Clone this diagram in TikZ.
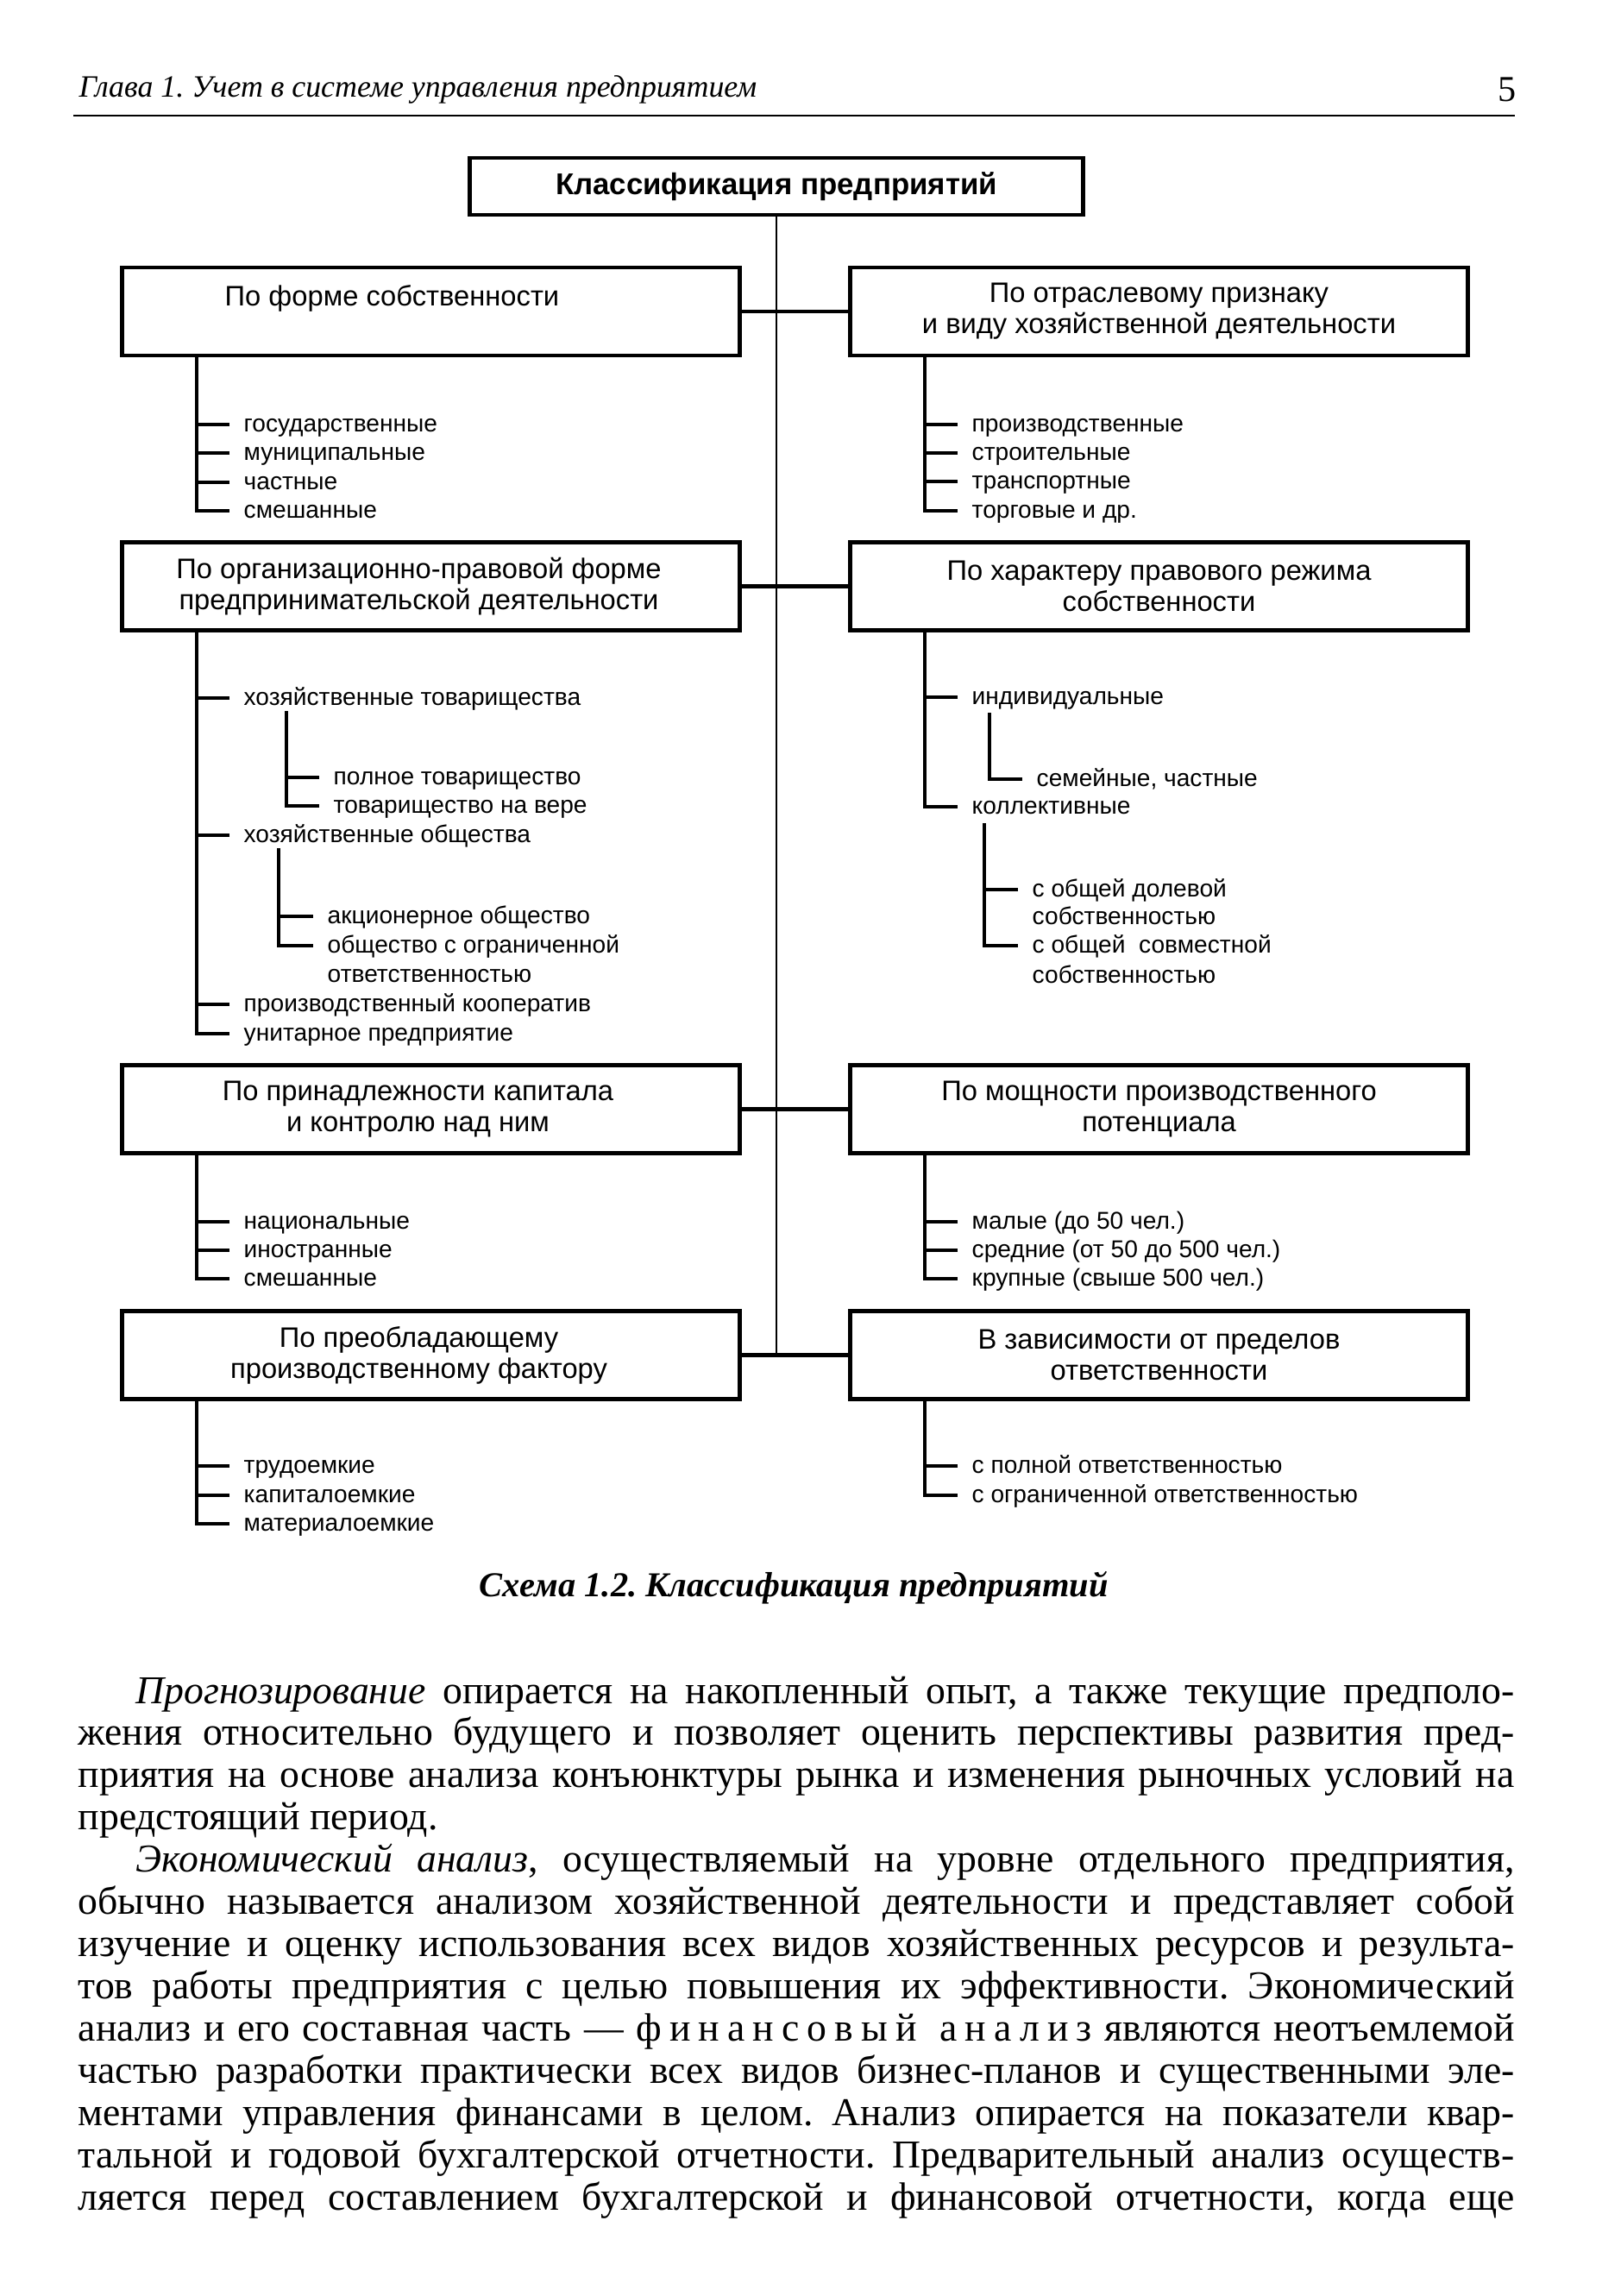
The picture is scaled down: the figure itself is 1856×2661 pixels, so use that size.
\documentclass[tikz,border=0pt]{standalone}
\usepackage{fontspec}
\setmainfont{Liberation Serif}
\setsansfont{Liberation Sans}
\frenchspacing
\newlength\bodyfullw \setlength\bodyfullw{16.64cm}
\newlength\bodyindw \setlength\bodyindw{15.97cm}
\tikzset{
  box/.style={draw, line width=1.3pt, rectangle, inner sep=0pt, align=center,
    minimum width=7.16cm, minimum height=1.02cm,
    font=\sffamily\fontsize{9.3}{10.3}\selectfont},
  item/.style={anchor=west, inner xsep=0.16cm, inner ysep=0pt,
    font=\sffamily\fontsize{8}{9.6}\selectfont, text height=1.5ex, text depth=0.5ex},
  trunk/.style={line width=0.7pt},
  conn/.style={line width=1.4pt},
  branch/.style={line width=1pt},
  bline/.style={anchor=west, inner sep=0pt, font=\frenchspacing\fontsize{13}{14}\selectfont,
    text height=1.5ex, text depth=0.5ex},
}
\begin{document}
\begin{tikzpicture}[x=0.01cm,y=-0.01cm]
\useasboundingbox[fill=white] (0,0) rectangle (1856,2661);

% running head
\node[anchor=west, inner sep=0pt, font=\itshape\fontsize{10.2}{12}\selectfont] (hd) at (91,104) {Глава 1. Учет в системе управления предприятием};
\node[inner sep=0pt, font=\fontsize{12}{13}\selectfont] (pg) at (1747,104) {5};
\draw[line width=0.7pt] (85,134) -- (1756,134);

% boxes
\node[box, minimum width=7.11cm, minimum height=0.66cm, font=\sffamily\bfseries\fontsize{9.9}{11}\selectfont] (top) at (900,216) {Классификация предприятий};
\node[box] (b1L) at (499.5,361) {По форме собственности\hspace*{0.9cm}\\\mbox{}};
\node[box] (b1R) at (1343.5,361) {По отраслевому признаку\\и виду хозяйственной деятельности};
\node[box] (b2L) at (499.5,679.5) {По организационно-правовой форме\hspace*{0.28cm}\\предпринимательской деятельности\hspace*{0.28cm}};
\node[box] (b2R) at (1343.5,679.5) {По характеру правового режима\\собственности};
\node[box] (b3L) at (499.5,1285.5) {По принадлежности капитала\hspace*{0.3cm}\\и контролю над ним\hspace*{0.3cm}};
\node[box] (b3R) at (1343.5,1285.5) {По мощности производственного\\потенциала};
\node[box] (b4L) at (499.5,1570.5) {По преобладающему\hspace*{0.28cm}\\производственному фактору\hspace*{0.28cm}};
\node[box] (b4R) at (1343.5,1570.5) {В зависимости от пределов\\ответственности};

\draw[trunk] (top.south) -- (top.south |- b4L.east);
\draw[conn] (b1L.east) -- (b1R.west);
\draw[conn] (b2L.east) -- (b2R.west);
\draw[conn] (b3L.east) -- (b3R.west);
\draw[conn] (b4L.east) -- (b4R.west);

\coordinate (vL) at (228,0);
\coordinate (vR) at (1072,0);

% row 1 left
\node[item] (a1) at (266,492) {государственные};
\node[item] (a2) at (266,525) {муниципальные};
\node[item] (a3) at (266,559) {частные};
\node[item] (a4) at (266,592) {смешанные};
\draw[branch] (b1L.south -| vL) |- (a4.west);
\foreach \n in {a1,a2,a3} \draw[branch] (\n.west) -- (\n.west -| vL);

% row 1 right
\node[item] (r1) at (1110,492) {производственные};
\node[item] (r2) at (1110,525) {строительные};
\node[item] (r3) at (1110,558) {транспортные};
\node[item] (r4) at (1110,592) {торговые и др.};
\draw[branch] (b1R.south -| vR) |- (r4.west);
\foreach \n in {r1,r2,r3} \draw[branch] (\n.west) -- (\n.west -| vR);

% row 2 left
\node[item] (c1) at (266,809) {хозяйственные товарищества};
\coordinate (s1) at (332,824);
\node[item] (c2) at (370,901) {полное товарищество};
\node[item] (c3) at (370,934) {товарищество на вере};
\node[item] (c4) at (266,968) {хозяйственные общества};
\coordinate (s2) at (323,983);
\node[item] (c5) at (363,1062) {акционерное общество};
\node[item] (c6) at (363,1096) {общество с ограниченной};
\node[item] (c7) at (363,1130) {ответственностью};
\node[item] (c8) at (266,1164) {производственный кооператив};
\node[item] (c9) at (266,1198) {унитарное предприятие};
\draw[branch] (b2L.south -| vL) |- (c9.west);
\foreach \n in {c1,c4,c8} \draw[branch] (\n.west) -- (\n.west -| vL);
\draw[branch] (s1) |- (c3.west);
\draw[branch] (c2.west) -- (c2.west -| s1);
\draw[branch] (s2) |- (c6.west);
\draw[branch] (c5.west) -- (c5.west -| s2);

% row 2 right
\node[item] (d1) at (1110,808) {индивидуальные};
\coordinate (s3) at (1147,826);
\node[item] (d2) at (1185,903) {семейные, частные};
\node[item] (d3) at (1110,935) {коллективные};
\coordinate (s4) at (1141,954);
\node[item] (d4) at (1180,1031) {с общей долевой};
\node[item] (d5) at (1180,1063) {собственностью};
\node[item] (d6) at (1180,1096) {с общей~ совместной};
\node[item] (d7) at (1180,1131) {собственностью};
\draw[branch] (b2R.south -| vR) |- (d3.west);
\draw[branch] (d1.west) -- (d1.west -| vR);
\draw[branch] (s3) |- (d2.west);
\draw[branch] (s4) |- (d6.west);
\draw[branch] (d4.west) -- (d4.west -| s4);

% row 3 left
\node[item] (e1) at (266,1416) {национальные};
\node[item] (e2) at (266,1449) {иностранные};
\node[item] (e3) at (266,1482) {смешанные};
\draw[branch] (b3L.south -| vL) |- (e3.west);
\foreach \n in {e1,e2} \draw[branch] (\n.west) -- (\n.west -| vL);

% row 3 right
\node[item] (f1) at (1110,1416) {малые (до 50 чел.)};
\node[item] (f2) at (1110,1449) {средние (от 50 до 500 чел.)};
\node[item] (f3) at (1110,1482) {крупные (свыше 500 чел.)};
\draw[branch] (b3R.south -| vR) |- (f3.west);
\foreach \n in {f1,f2} \draw[branch] (\n.west) -- (\n.west -| vR);

% row 4 left
\node[item] (g1) at (266,1699) {трудоемкие};
\node[item] (g2) at (266,1733) {капиталоемкие};
\node[item] (g3) at (266,1766) {материалоемкие};
\draw[branch] (b4L.south -| vL) |- (g3.west);
\foreach \n in {g1,g2} \draw[branch] (\n.west) -- (\n.west -| vL);

% row 4 right
\node[item] (h1) at (1110,1699) {с полной ответственностью};
\node[item] (h2) at (1110,1733) {с ограниченной ответственностью};
\draw[branch] (b4R.south -| vR) |- (h2.west);
\draw[branch] (h1.west) -- (h1.west -| vR);

% caption
\node[inner sep=0pt, font=\bfseries\itshape\fontsize{11.5}{13}\selectfont] (cap) at (920,1840) {Схема 1.2. Классификация предприятий};

% body text
\node[bline] (p1) at (157,1966) {\makebox[\bodyindw][s]{\textit{Прогнозирование} опирается на накопленный опыт, а также текущие предполо-}};
\node[bline] (p2) at (90,2014) {\makebox[\bodyfullw][s]{жения относительно будущего и позволяет оценить перспективы развития пред-}};
\node[bline] (p3) at (90,2063) {\makebox[\bodyfullw][s]{приятия на основе анализа конъюнктуры рынка и изменения рыночных условий на}};
\node[bline] (p4) at (90,2112) {предстоящий период.};
\node[bline] (p5) at (157,2161) {\makebox[\bodyindw][s]{\textit{Экономический анализ}, осуществляемый на уровне отдельного предприятия,}};
\node[bline] (p6) at (90,2210) {\makebox[\bodyfullw][s]{обычно называется анализом хозяйственной деятельности и представляет собой}};
\node[bline] (p7) at (90,2259) {\makebox[\bodyfullw][s]{изучение и оценку использования всех видов хозяйственных ресурсов и результа-}};
\node[bline] (p8) at (90,2308) {\makebox[\bodyfullw][s]{тов работы предприятия с целью повышения их эффективности. Экономический}};
\node[bline] (p9) at (90,2357) {\makebox[\bodyfullw][s]{анализ и его составная часть — {\addfontfeature{LetterSpace=20}финансовый анализ} являются неотъемлемой}};
\node[bline] (p10) at (90,2406) {\makebox[\bodyfullw][s]{частью разработки практически всех видов бизнес-планов и существенными эле-}};
\node[bline] (p11) at (90,2455) {\makebox[\bodyfullw][s]{ментами управления финансами в целом. Анализ опирается на показатели квар-}};
\node[bline] (p12) at (90,2504) {\makebox[\bodyfullw][s]{тальной и годовой бухгалтерской отчетности. Предварительный анализ осуществ-}};
\node[bline] (p13) at (90,2553) {\makebox[\bodyfullw][s]{ляется перед составлением бухгалтерской и финансовой отчетности, когда еще}};
\end{tikzpicture}
\end{document}
